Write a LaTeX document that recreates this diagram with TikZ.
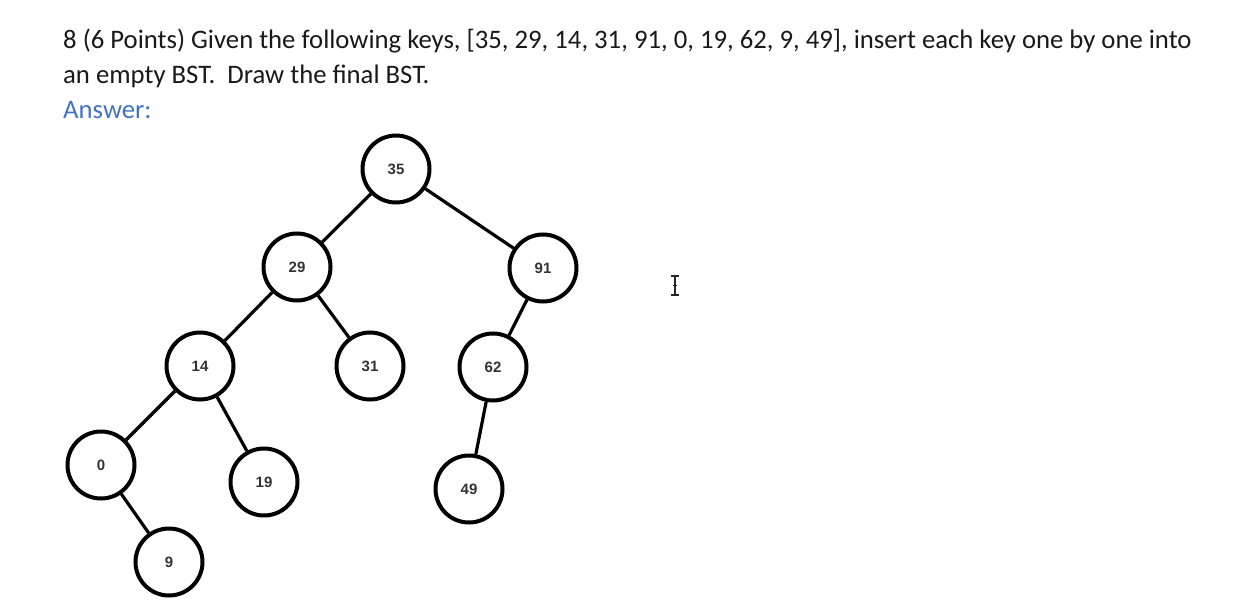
\documentclass[tikz,border=0pt]{standalone}
\usepackage{fontspec}
\setmainfont{Carlito}
\newfontfamily\labelfont{Liberation Sans}
\definecolor{ansblue}{RGB}{68,114,196}
\begin{document}
\begin{tikzpicture}[x=1pt,y=-1pt,
  keynode/.style={circle,draw=black,line width=4pt,minimum size=67pt,inner sep=0pt,font=\labelfont\bfseries\fontsize{15}{15}\selectfont,text=black!80},
  edge/.style={line width=3.2pt,black},
  txt/.style={anchor=base west,inner sep=0pt,text=black!90,font=\fontsize{26.7}{30}\selectfont}]
\useasboundingbox (0,0) rectangle (1246,612);
\fill[white] (0,0) rectangle (1246,612);
\node[txt] (l1) at (63,49) {8 (6 Points) Given the following keys, [35, 29, 14, 31, 91, 0, 19, 62, 9, 49], insert each key one by one into};
\node[txt] (l2) at (63,84) {an empty BST.\ \ Draw the final BST.};
\node[txt,text=ansblue] (ans) at (63,119) {Answer:};
\node[keynode] (n35) at (396,169) {35};
\node[keynode] (n29) at (297,267) {29};
\node[keynode] (n91) at (543,268) {91};
\node[keynode] (n14) at (200,366) {14};
\node[keynode] (n31) at (370,366) {31};
\node[keynode] (n62) at (493,367) {62};
\node[keynode] (n0) at (101,465) {0};
\node[keynode] (n19) at (264,482) {19};
\node[keynode] (n49) at (469,489) {49};
\node[keynode] (n9) at (169,562) {9};
\draw[edge] (n35) -- (n29);
\draw[edge] (n35) -- (n91);
\draw[edge] (n29) -- (n14);
\draw[edge] (n29) -- (n31);
\draw[edge] (n91) -- (n62);
\draw[edge] (n14) -- (n0);
\draw[edge] (n14) -- (n19);
\draw[edge] (n62) -- (n49);
\draw[edge] (n0) -- (n9);
% I-beam cursor
\draw[line width=1.3pt,black!85] (675,277) -- (675,294) (671,276) -- (679,276) (671,295) -- (679,295) (673,285.5) -- (677,285.5);
\end{tikzpicture}
\end{document}
